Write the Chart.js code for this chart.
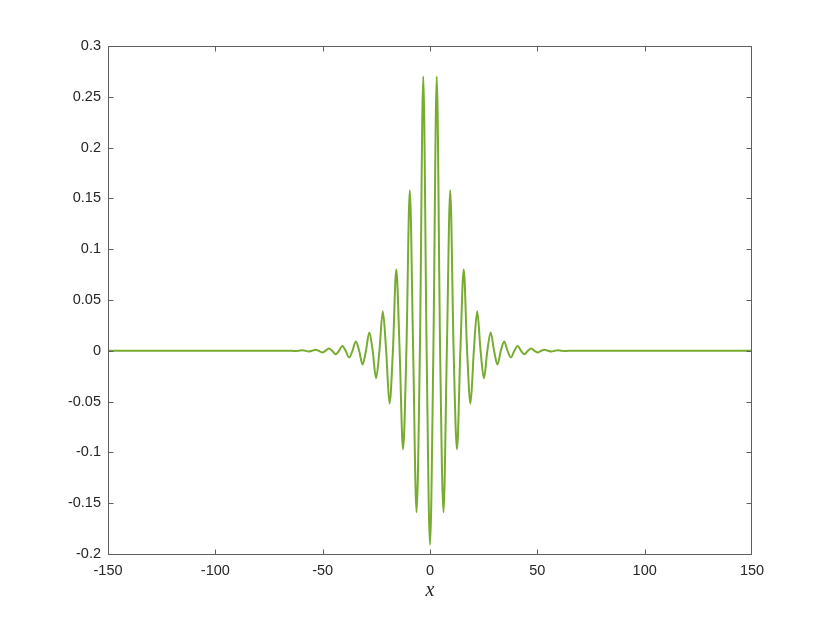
<!DOCTYPE html>
<html><head><meta charset="utf-8">
<script src="https://cdn.jsdelivr.net/npm/chart.js@4.4.0/dist/chart.umd.min.js"></script>
<style>html,body{margin:0;padding:0;background:#fff;overflow:hidden}#wrap{width:830px;height:623px}</style>
</head><body><div id="wrap"><canvas id="c" width="830" height="623"></canvas></div>
<script>
// sample positions (x) and curve values (y)
const xValues = [
  -150, -64.4, -62.83, -61.26, -59.69, -58.12, -56.55, -54.98, -53.41, -51.84, -50.27,
  -48.69, -47.12, -45.55, -43.98, -42.41, -40.84, -39.27, -37.70, -36.13, -34.56,
  -32.99, -31.42, -29.85, -28.27, -26.70, -25.13, -23.56, -21.99, -20.42, -18.85,
  -17.28, -15.71, -14.14, -12.57, -11.00, -9.42, -7.85, -6.28, -4.71, -3.14, -1.57,
  0,
  1.57, 3.14, 4.71, 6.28, 7.85, 9.42, 11.00, 12.57, 14.14, 15.71, 17.28,
  18.85, 20.42, 21.99, 23.56, 25.13, 26.70, 28.27, 29.85, 31.42, 32.99,
  34.56, 36.13, 37.70, 39.27, 40.84, 42.41, 43.98, 45.55, 47.12, 48.69,
  50.27, 51.84, 53.41, 54.98, 56.55, 58.12, 59.69, 61.26, 62.83, 64.4, 150
];
const yValues = [
  0, 0, -0.0003, 0, 0.0005, 0, -0.0007, 0, 0.0011, 0, -0.0016,
  0, 0.0022, 0, -0.0033, 0, 0.0048, 0, -0.0066, 0, 0.0092,
  0, -0.0135, 0, 0.018, 0, -0.027, 0, 0.039, 0, -0.052,
  0, 0.080, 0, -0.097, 0, 0.158, 0, -0.159, 0, 0.270, 0,
  -0.191,
  0, 0.270, 0, -0.159, 0, 0.158, 0, -0.097, 0, 0.080, 0,
  -0.052, 0, 0.039, 0, -0.027, 0, 0.018, 0, -0.0135, 0,
  0.0092, 0, -0.0066, 0, 0.0048, 0, -0.0033, 0, 0.0022, 0,
  -0.0016, 0, 0.0011, 0, -0.0007, 0, 0.0005, 0, -0.0003, 0, 0
];
const xTicks = [-150, -100, -50, 0, 50, 100, 150];
const xTickLabels = ['-150', '-100', '-50', '0', '50', '100', '150'];
const yTicks = [-0.2, -0.15, -0.1, -0.05, 0, 0.05, 0.1, 0.15, 0.2, 0.25, 0.3];
const yTickLabels = ['-0.2', '-0.15', '-0.1', '-0.05', '0', '0.05', '0.1', '0.15', '0.2', '0.25', '0.3'];
const xLabel = 'x';

const points = xValues.map((x, i) => ({x: x, y: yValues[i]}));
const AXIS_COLOR = '#5f5f5f';
const TEXT_COLOR = '#262626';

const frame = {
  id: 'frame',
  afterDraw(chart) {
    const {ctx, chartArea: a, scales} = chart;
    ctx.save();
    ctx.strokeStyle = AXIS_COLOR;
    ctx.lineWidth = 1;
    const L = a.left + 0.5, R = a.right - 0.5, T = a.top + 0.5, B = a.bottom + 0.5;
    ctx.beginPath();
    ctx.rect(L, T, R - L, B - T);
    const tl = 5;
    const clamp = (v, lo, hi) => Math.min(hi, Math.max(lo, v));
    scales.x.ticks.forEach(t => {
      const px = clamp(Math.round(scales.x.getPixelForValue(t.value)) + 0.5, L, R);
      ctx.moveTo(px, B); ctx.lineTo(px, B - tl);
      ctx.moveTo(px, T); ctx.lineTo(px, T + tl);
    });
    scales.y.ticks.forEach(t => {
      const py = clamp(Math.round(scales.y.getPixelForValue(t.value)) + 0.5, T, B);
      ctx.moveTo(L, py); ctx.lineTo(L + tl, py);
      ctx.moveTo(R, py); ctx.lineTo(R - tl, py);
    });
    ctx.stroke();
    ctx.restore();
  }
};

new Chart(document.getElementById('c'), {
  type: 'line',
  data: {
    datasets: [{
      data: points,
      borderColor: '#77AC30',
      borderWidth: 2,
      pointRadius: 0,
      fill: false,
      cubicInterpolationMode: 'monotone'
    }]
  },
  options: {
    responsive: false,
    animation: false,
    devicePixelRatio: 1,
    layout: {padding: {left: 0, right: 78, top: 46, bottom: 0}},
    plugins: {legend: {display: false}, tooltip: {enabled: false}},
    scales: {
      x: {
        type: 'linear', min: -150, max: 150,
        grid: {display: false, drawTicks: false, tickLength: 0},
        border: {display: false},
        afterBuildTicks: s => { s.ticks = xTicks.map(v => ({value: v})); },
        afterFit: s => { s.height = 69; },
        ticks: {
          padding: 8, color: TEXT_COLOR, maxRotation: 0, autoSkip: false,
          font: {family: 'Liberation Sans, Arial, sans-serif', size: 14.5},
          callback: (v, i) => xTickLabels[i]
        },
        title: {
          display: true, text: xLabel, color: TEXT_COLOR,
          font: {family: 'Liberation Serif, DejaVu Serif, serif', size: 20, style: 'italic'},
          padding: {top: 0, bottom: 20}
        }
      },
      y: {
        type: 'linear', min: -0.2, max: 0.3,
        grid: {display: false, drawTicks: false, tickLength: 0},
        border: {display: false},
        afterBuildTicks: s => { s.ticks = yTicks.map(v => ({value: v})); },
        afterFit: s => { s.width = 108; },
        ticks: {
          padding: 7, color: TEXT_COLOR, autoSkip: false,
          font: {family: 'Liberation Sans, Arial, sans-serif', size: 14.5},
          callback: (v, i) => yTickLabels[i]
        }
      }
    }
  },
  plugins: [frame]
});
</script>
</body></html>
